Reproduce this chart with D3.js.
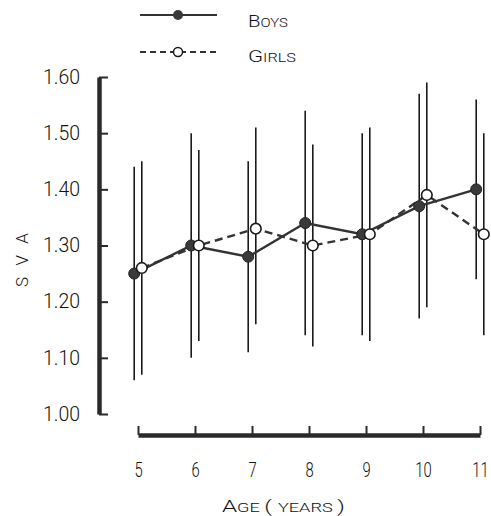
<!DOCTYPE html>
<html>
<head>
<meta charset="utf-8">
<script src="https://cdn.jsdelivr.net/npm/d3@7"></script>
<style>
  html, body { margin: 0; padding: 0; background: #fff; }
  svg { display: block; }
  text { font-family: Roboto, "DejaVu Sans", sans-serif; font-weight: 300; fill: #111; }
</style>
</head>
<body>
<svg id="chart" width="491" height="516"></svg>
<script>
const ages = [5, 6, 7, 8, 9, 10, 11];
const boysMean = [1.25, 1.30, 1.28, 1.34, 1.32, 1.37, 1.40];
const boysHi   = [1.44, 1.50, 1.45, 1.54, 1.50, 1.57, 1.56];
const boysLo   = [1.06, 1.10, 1.11, 1.14, 1.14, 1.17, 1.24];
const girlsMean = [1.26, 1.30, 1.33, 1.30, 1.32, 1.39, 1.32];
const girlsHi   = [1.45, 1.47, 1.51, 1.48, 1.51, 1.59, 1.50];
const girlsLo   = [1.07, 1.13, 1.16, 1.12, 1.13, 1.19, 1.14];
const yTicks = [1.00, 1.10, 1.20, 1.30, 1.40, 1.50, 1.60];
const xTicks = [5, 6, 7, 8, 9, 10, 11];
const seriesNames = ["Boys", "Girls"];

const svg = d3.select("#chart");
const ink = "#2a2a2a";

const x = d3.scaleLinear().domain([5, 11]).range([138, 480]);
const y = d3.scaleLinear().domain([1.0, 1.6]).range([414, 77]);
const yAxisX = 99;
const xAxisY = 435;
const off = 3.8;

// Y axis
const gy = svg.append("g").attr("transform", `translate(${yAxisX},0)`)
  .call(d3.axisLeft(y).tickValues(yTicks).tickFormat(d3.format(".2f"))
        .tickSizeInner(-9).tickSizeOuter(0).tickPadding(19));
gy.attr("font-family", null);
gy.select(".domain").attr("stroke", ink).attr("stroke-width", 4.5);
gy.selectAll(".tick line").attr("stroke", ink).attr("stroke-width", 2);
gy.selectAll(".tick text").attr("font-size", 19.5).attr("fill", null)
  .attr("textLength", 37).attr("lengthAdjust", "spacingAndGlyphs");

// X axis
const gx = svg.append("g").attr("transform", `translate(0,${xAxisY})`)
  .call(d3.axisBottom(x).tickValues(xTicks).tickFormat(d3.format("d"))
        .tickSizeInner(-9).tickSizeOuter(0).tickPadding(27));
gx.attr("font-family", null);
gx.select(".domain").attr("stroke", ink).attr("stroke-width", 4.5);
gx.selectAll(".tick line").attr("stroke", ink).attr("stroke-width", 2);
gx.selectAll(".tick text").attr("font-size", 21).attr("fill", null)
  .attr("textLength", d => String(d).length * 8.2)
  .attr("lengthAdjust", "spacingAndGlyphs");

// Error bars
function errBars(lo, hi, dx) {
  svg.append("g").selectAll("line").data(ages).join("line")
    .attr("x1", (d) => x(d) + dx).attr("x2", (d) => x(d) + dx)
    .attr("y1", (d, i) => y(lo[i])).attr("y2", (d, i) => y(hi[i]))
    .attr("stroke", "#1a1a1a").attr("stroke-width", 1.6);
}
errBars(boysLo, boysHi, -off);
errBars(girlsLo, girlsHi, off);

// Lines
const lineB = d3.line().x((d, i) => x(ages[i]) - off).y(d => y(d));
const lineG = d3.line().x((d, i) => x(ages[i]) + off).y(d => y(d));
svg.append("path").attr("d", lineG(girlsMean)).attr("fill", "none")
  .attr("stroke", "#333").attr("stroke-width", 2.4).attr("stroke-dasharray", "8,5");
svg.append("path").attr("d", lineB(boysMean)).attr("fill", "none")
  .attr("stroke", "#333").attr("stroke-width", 2.4);

// Points
svg.append("g").selectAll("circle").data(boysMean).join("circle")
  .attr("cx", (d, i) => x(ages[i]) - off).attr("cy", d => y(d)).attr("r", 5.5)
  .attr("fill", "#3a3a3a").attr("stroke", "#222").attr("stroke-width", 1);
svg.append("g").selectAll("circle").data(girlsMean).join("circle")
  .attr("cx", (d, i) => x(ages[i]) + off).attr("cy", d => y(d)).attr("r", 5.3)
  .attr("fill", "#fff").attr("stroke", "#1a1a1a").attr("stroke-width", 1.6);

// Legend
const leg = svg.append("g");
leg.append("line").attr("x1", 140).attr("x2", 217).attr("y1", 15).attr("y2", 15)
  .attr("stroke", "#333").attr("stroke-width", 2.2);
leg.append("circle").attr("cx", 178).attr("cy", 15).attr("r", 5)
  .attr("fill", "#3a3a3a");
leg.append("line").attr("x1", 140).attr("x2", 217).attr("y1", 52).attr("y2", 52)
  .attr("stroke", "#333").attr("stroke-width", 2.2).attr("stroke-dasharray", "6,4");
leg.append("circle").attr("cx", 178).attr("cy", 52).attr("r", 4.5)
  .attr("fill", "#fff").attr("stroke", "#1a1a1a").attr("stroke-width", 1.5);

function smallCaps(g, xPos, yPos, word, big, small, width) {
  const t = g.append("text").attr("x", xPos).attr("y", yPos)
    .attr("textLength", width).attr("lengthAdjust", "spacingAndGlyphs");
  t.append("tspan").attr("font-size", big).text(word[0].toUpperCase());
  t.append("tspan").attr("font-size", small).text(word.slice(1).toUpperCase());
  return t;
}
smallCaps(leg, 248, 27, seriesNames[0], 17, 12.5, 40);
smallCaps(leg, 248, 62, seriesNames[1], 17, 12.5, 48);

// Y axis title
svg.append("text").attr("transform", "translate(28,260) rotate(-90)")
  .attr("text-anchor", "middle").attr("font-size", 17)
  .attr("textLength", 54).attr("lengthAdjust", "spacing").text("S V A");

// X axis title
const xt = svg.append("text").attr("x", 222).attr("y", 512)
  .attr("textLength", 123).attr("lengthAdjust", "spacingAndGlyphs");
xt.append("tspan").attr("font-size", 16).text("A");
xt.append("tspan").attr("font-size", 12).text("GE ");
xt.append("tspan").attr("font-size", 16).text("( ");
xt.append("tspan").attr("font-size", 12).text("YEARS ");
xt.append("tspan").attr("font-size", 16).text(")");
</script>
</body>
</html>
